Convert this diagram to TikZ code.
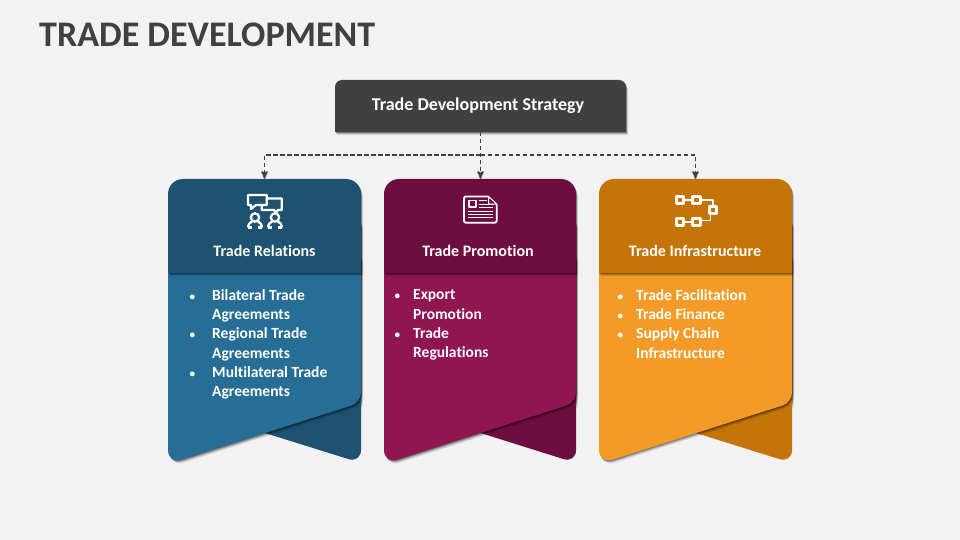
\documentclass[tikz,border=0pt]{standalone}
\usepackage{fontspec}
\setmainfont{Carlito}[Ligatures=NoCommon]
\usetikzlibrary{arrows,shadows}
\definecolor{blueDark}{RGB}{29,82,112}
\definecolor{blueMid}{RGB}{39,110,150}
\definecolor{plumDark}{RGB}{110,13,63}
\definecolor{plumMid}{RGB}{145,20,83}
\definecolor{amberDark}{RGB}{196,116,8}
\definecolor{amberMid}{RGB}{244,155,39}
\tikzset{
	softshadow/.style = {
		drop shadow={shadow xshift=2pt, shadow yshift=-3.2pt, opacity=.07, fill=black},
		drop shadow={shadow xshift=1.5pt, shadow yshift=-2.4pt, opacity=.12, fill=black},
		drop shadow={shadow xshift=1pt, shadow yshift=-1.6pt, opacity=.18, fill=black},
		drop shadow={shadow xshift=.5pt, shadow yshift=-.8pt, opacity=.25, fill=black}},
	mainbox/.style = {align=center, text=white, font=\fontsize{18}{20}\selectfont\bfseries},
	cardbox/.style = {minimum width=193pt, minimum height=94pt, inner sep=0pt},
	cardtitle/.style = {text=white, font=\fontsize{16}{18}\selectfont\bfseries},
	cardlist/.style = {align=left, anchor=north west, inner sep=0pt, text=white,
		font=\fontsize{15.5}{19.35}\selectfont\bfseries},
	flowline/.style = {->,>=stealth', dashed, dash pattern=on 4.2pt off 2.8pt, color=black!75, line width=1.6pt},
	iconline/.style = {draw=white, line width=#1, line join=round}
}
\newcommand{\itm}[1]{\leavevmode\llap{\scalebox{.72}{\textbullet}\hspace{#1}}}
\begin{document}
\begin{tikzpicture}[x=1pt,y=-1pt]
	\fill[black!5] (0,0) rectangle (960,540);
	\useasboundingbox (0,0) rectangle (960,540);
	\node[anchor=west, inner sep=0pt, text=black!75, font=\fontsize{36}{40}\selectfont\bfseries] (heading) at (39,35) {TRADE DEVELOPMENT};
	% grey box
	\fill[black!75, softshadow] (335,132) -- (626,132) [rounded corners=7pt] -- (626,80) -- (335,80) [sharp corners] -- cycle;
	\node[mainbox] (strategy) at (478,106) [inner sep=0pt] {Trade Development Strategy};
	\coordinate (strategyFoot) at (480.5,132);
	% cards
	\foreach \xa/\wa/\cdark/\cmid in {168/193/blueDark/blueMid, 384/192/plumDark/plumMid, 599/193/amberDark/amberMid}{
		\fill[\cdark, softshadow, rounded corners=10pt] (\xa+60,216) rectangle (\xa+\wa,410);
		\fill[\cdark, rounded corners=13pt] (\xa+60,421.5) -- (\xa+\wa,463) [sharp corners] -- (\xa+\wa,400) -- (\xa+60,400) -- cycle;
		\fill[\cmid, softshadow, rounded corners=10pt] (\xa,250) [rounded corners=14pt] -- (\xa,464) [rounded corners=10pt] -- (\xa+\wa,402.5) -- (\xa+\wa,250) -- cycle;
		\fill[\cdark, softshadow] (\xa,273) [rounded corners=15pt] -- (\xa,179) -- (\xa+\wa,179) [sharp corners] -- (\xa+\wa,273) -- cycle;
	}
	\node[cardbox] (relations) at (264.5,226) {};
	\node[cardbox] (promotion) at (480.5,226) {};
	\node[cardbox] (infrastructure) at (695.5,226) {};
	\node[cardtitle] (relationsTitle) at (264.5,251) {Trade Relations};
	\node[cardtitle] (promotionTitle) at (478,251) {Trade Promotion};
	\node[cardtitle] (infrastructureTitle) at (695,251) {Trade Infrastructure};
	\node[cardlist] (relationsList) at (212,289) {\itm{17pt}Bilateral Trade\\Agreements\\\itm{17pt}Regional Trade\\Agreements\\\itm{17pt}Multilateral Trade\\Agreements};
	\node[cardlist] (promotionList) at (413,289.6) {\itm{13pt}Export\\Promotion\\\itm{13pt}Trade\\Regulations};
	\node[cardlist] (infrastructureList) at (636,289) {\itm{13pt}Trade Facilitation\\\itm{13pt}Trade Finance\\\itm{13pt}Supply Chain\\Infrastructure};
	% connectors
	\draw[flowline] (strategyFoot) -- (promotion.north);
	\draw[flowline] (strategyFoot) ++(0,23) -| (relations.north);
	\draw[flowline] (strategyFoot) ++(0,23) -| (infrastructure.north);
	% icon people talking
	\draw[iconline=2.3pt] (248,195) -- (266.7,195) -- (266.7,205) -- (256,205) -- (251,209) -- (251,205) -- (248,205) -- cycle;
	\draw[iconline=2.3pt] (266.7,198.5) -- (281.7,198.5) -- (281.7,210) -- (278,210) -- (276,212.5) -- (274,210) -- (261.7,210) -- (261.7,205);
	\foreach \xb in {255,275}{
		\draw[iconline=2.3pt] (\xb,217.5) circle (4.2pt);
		\draw[iconline=2.3pt] (\xb-7,227.5) .. controls (\xb-6.5,224) and (\xb-5,222.5) .. (\xb-3,221.5);
		\draw[iconline=2.3pt] (\xb+7,227.5) .. controls (\xb+6.5,224) and (\xb+5,222.5) .. (\xb+3,221.5);
		\draw[iconline=2.3pt] (\xb-7,227.5) -- (\xb-3,227.5) (\xb+3,227.5) -- (\xb+7,227.5);
	}
	% icon document
	\draw[iconline=1.9pt, rounded corners=2pt] (488.5,196.5) -- (464,196.5) -- (464,222.7) -- (496.7,222.7) -- (496.7,204);
	\draw[iconline=1pt] (488.5,196.5) -- (496.7,204) -- (489.5,204) -- (488.5,203) -- cycle;
	\draw[iconline=1.6pt] (469,200.5) rectangle (476,207);
	\draw[iconline=1pt] (478.5,200.5) -- (487,200.5) (478.5,204) -- (493,204) (478.5,207.2) -- (493,207.2);
	\foreach \yb in {211,214.3,217.6}{
		\draw[iconline=1pt] (468,\yb) -- (493,\yb);
	}
	% icon flow blocks
	\foreach \xc/\yc in {680/200, 696.5/200, 713/210, 680/222, 696.5/222}{
		\draw[iconline=2.7pt] (\xc-3.7,\yc-3.7) rectangle (\xc+3.7,\yc+3.7);
	}
	\draw[iconline=1.8pt] (684,199.7) -- (692.5,199.7) (684,221.7) -- (692.5,221.7)
		(700.5,199.7) -- (713,199.7) -- (713,206) (700.5,220.5) -- (710.5,220.5) -- (710.5,214);
\end{tikzpicture}
\end{document}
